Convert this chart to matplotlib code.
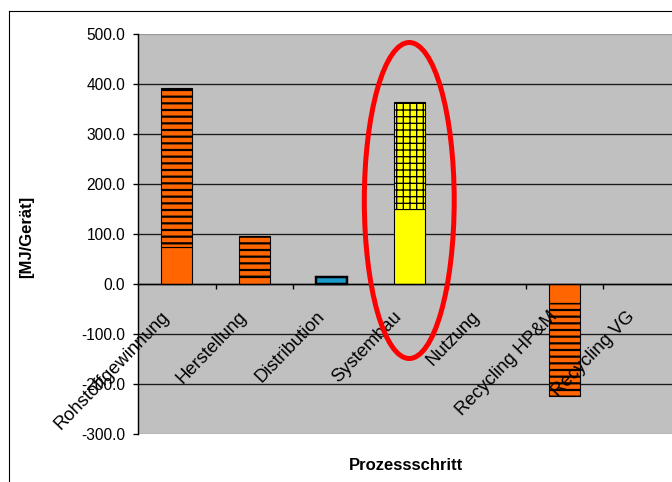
import matplotlib.pyplot as plt
from matplotlib.patches import Ellipse
from matplotlib.lines import Line2D

# values (MJ per device)
categories = ["Rohstoffgewinnung", "Herstellung", "Distribution", "Systembau",
              "Nutzung", "Recycling HP&M", "Recycling VG"]
solid_part = [75, 15, 0, 150, 0, -38, 0]
hatched_part = [317, 82, 14, 215, 0, -186, 0]
y_ticks = [-300, -200, -100, 0, 100, 200, 300, 400, 500]

# styling per category
bar_colors = ["#FF6600", "#FF6600", "#1A9AC9", "#FFFF00", "#FF6600", "#FF6600", "#FF6600"]
bar_hatches = ["--", "--", "", "++", "--", "--", "--"]
hatch_widths = [2.0, 2.0, 2.0, 1.2, 2.0, 2.0, 2.0]
edge_widths = [1.0, 1.0, 2.2, 1.0, 1.0, 1.0, 1.0]

plt.rcParams["font.family"] = ["Liberation Sans", "DejaVu Sans"]

DPI = 80
fig = plt.figure(figsize=(672 / DPI, 482 / DPI), dpi=DPI, facecolor="white")
ax = fig.add_axes([138 / 672, 48 / 482, 542.5 / 672, 400 / 482])
ax.set_facecolor("#C0C0C0")

ax.set_xlim(-0.5, len(categories) - 0.5)
ax.set_ylim(-300, 500)

# grid lines at every 100 (inside the plot area), border lines grey
for y in y_ticks[1:-1]:
    ax.axhline(y, color="#1a1a1a", lw=1.2, zorder=1)
ax.axhline(500, color="#9a9a9a", lw=1.2, zorder=1)
ax.axhline(-300, color="#8a8a8a", lw=1.2, zorder=1)

BAR_W = 0.4
for i, (s, h) in enumerate(zip(solid_part, hatched_part)):
    if s != 0:
        ax.bar(i, s, width=BAR_W, color=bar_colors[i], edgecolor="black",
               lw=edge_widths[i], zorder=3)
    if h != 0:
        plt.rcParams["hatch.linewidth"] = hatch_widths[i]
        b = ax.bar(i, h, bottom=s, width=BAR_W, color=bar_colors[i],
                   edgecolor="black", lw=edge_widths[i],
                   hatch=bar_hatches[i] or None, zorder=3)
        for p in b:
            if hasattr(p, "set_hatch_linewidth"):
                p.set_hatch_linewidth(hatch_widths[i])

# axes: left spine + category axis crossing at zero
for side in ["top", "right"]:
    ax.spines[side].set_visible(False)
ax.spines["left"].set_color("black")
ax.spines["left"].set_linewidth(1.3)
ax.spines["bottom"].set_position(("data", 0))
ax.spines["bottom"].set_color("black")
ax.spines["bottom"].set_linewidth(1.3)
ax.spines["bottom"].set_zorder(4)

ax.set_yticks(y_ticks)
ax.set_yticklabels([f"{v:.1f}" for v in y_ticks], fontsize=14)
ax.tick_params(axis="y", direction="out", length=4.5, width=1.2, pad=7)

ax.set_xticks([i + 0.5 for i in range(len(categories) - 1)])
ax.set_xticklabels([])
ax.tick_params(axis="x", direction="out", length=4.5, width=1.2)

for i, name in enumerate(categories):
    ax.annotate(name, xy=(i, 0), xytext=(-16, -24), textcoords="offset pixels",
                rotation=46, rotation_mode="anchor", ha="right", va="top",
                fontsize=16.5, zorder=5, annotation_clip=False)

# red ellipse around Systembau
ax.add_patch(Ellipse((3, 167), width=1.16, height=632, fill=False,
                     edgecolor="#FF0000", lw=4.5, zorder=6, clip_on=False))

fig.text(27 / 672, 1 - 237 / 482, "[MJ/Gerät]", rotation=90, fontsize=15,
         fontweight="bold", ha="center", va="center")
fig.text(406 / 672, 1 - 466 / 482, "Prozessschritt", fontsize=15,
         fontweight="bold", ha="center", va="center")

# chart frame (clipped at right and bottom in the original screenshot)
fig.add_artist(Line2D([9 / 672, 9 / 672], [0, 1 - 11 / 482],
                      transform=fig.transFigure, color="black", lw=1))
fig.add_artist(Line2D([9 / 672, 1], [1 - 11 / 482, 1 - 11 / 482],
                      transform=fig.transFigure, color="black", lw=1))

fig.savefig("out.png", dpi=DPI, facecolor="white")
